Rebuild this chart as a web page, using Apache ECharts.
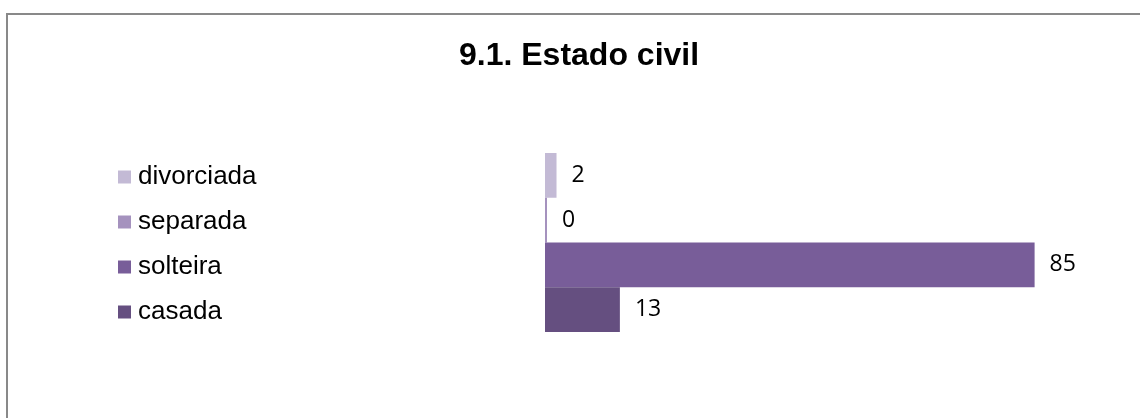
<!DOCTYPE html>
<html>
<head>
<meta charset="utf-8">
<script src="https://cdn.jsdelivr.net/npm/echarts@6/dist/echarts.min.js"></script>
<style>
    html, body { margin: 0; padding: 0; background: #fff; }
    #chart { width: 1140px; height: 418px; }
</style>
</head>
<body>
<div id="chart"></div>
<script>
(function() {
    // categorias (de cima para baixo no grafico)
    var names = ['divorciada', 'separada', 'solteira', 'casada'];
    var values = [2, 0, 85, 13];
    var colors = ['#C3BAD5', '#A592BE', '#785D99', '#654F80'];

    var series = names.map(function(name, i) {
        return {
            name: name,
            type: 'bar',
            data: [values[i]],
            barGap: '0%',
            barCategoryGap: '0%',
            barMinHeight: values[i] === 0 ? 2 : 0,
            itemStyle: { color: colors[i] },
            label: {
                show: true,
                position: 'right',
                distance: 15,
                color: '#000',
                fontFamily: 'Open Sans',
                fontSize: 23
            },
            emphasis: { disabled: true }
        };
    });

    var myChart = echarts.init(document.getElementById('chart'));
    myChart.setOption({
        animation: false,
        title: {
            text: '9.1. Estado civil',
            left: 454,
            top: 35,
            textStyle: {
                fontFamily: 'Liberation Sans',
                fontWeight: 'bold',
                fontSize: 32,
                color: '#000'
            }
        },
        legend: {
            orient: 'vertical',
            left: 113,
            top: 159,
            itemWidth: 13,
            itemHeight: 13,
            itemGap: 19,
            icon: 'rect',
            selectedMode: false,
            data: names,
            textStyle: {
                fontFamily: 'Liberation Sans',
                fontSize: 26,
                color: '#000',
                padding: [0, 0, 0, 2]
            }
        },
        grid: {
            left: 545,
            right: 19,
            top: 153,
            height: 179
        },
        xAxis: {
            type: 'value',
            min: 0,
            max: 100,
            show: false
        },
        yAxis: {
            type: 'category',
            data: [''],
            show: false
        },
        graphic: [{
            type: 'rect',
            shape: { x: 7, y: 14, width: 1200, height: 500 },
            style: { fill: 'none', stroke: '#898989', lineWidth: 2 },
            silent: true
        }],
        series: series
    });
})();
</script>
</body>
</html>
